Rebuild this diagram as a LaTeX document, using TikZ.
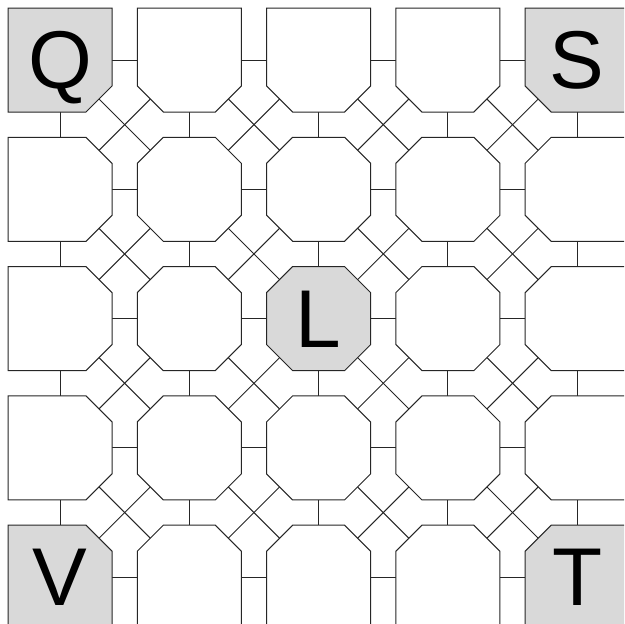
\documentclass[tikz,border=0pt]{standalone}
\usepackage{fontspec}
\setmainfont{Liberation Sans}
\usetikzlibrary{calc}
\tikzset{
  link/.style={draw=black!85, line width=1pt},
  cellbox/.style={draw=black!85, line width=1pt, fill=white},
  graycell/.style={cellbox, fill=black!15},
  biglabel/.style={inner sep=0pt, anchor=base, font=\fontsize{82}{82}\selectfont},
}
\begin{document}
\begin{tikzpicture}[x=1pt,y=1pt]
\useasboundingbox (0,0) rectangle (624,-624);
\clip (0,0) rectangle (624,-624);
% cell centres
\foreach \r in {0,...,4}{
  \foreach \c in {0,...,4}{
    \coordinate (c\r\c) at ({60+129.3*\c},{-(60+129.3*\r)});
  }
}
% connectors
\foreach \r in {0,...,4}{
  \foreach \c [evaluate=\c as \n using int(\c+1)] in {0,...,3}{
    \draw[link] (c\r\c) -- (c\r\n);
    \draw[link] (c\c\r) -- (c\n\r);
  }
}
\foreach \r [evaluate=\r as \rn using int(\r+1)] in {0,...,3}{
  \foreach \c [evaluate=\c as \cn using int(\c+1)] in {0,...,3}{
    \draw[link] (c\r\c) -- (c\rn\cn);
    \draw[link] (c\r\cn) -- (c\rn\c);
  }
}
% cells
\foreach \r in {0,...,4}{
  \foreach \c in {0,...,4}{
    \def\tl{(-52,52)}\def\tr{(52,52)}\def\br{(52,-52)}\def\bl{(-52,-52)}
    \ifnum\r>0 \ifnum\c>0 \def\tl{(-52,26) -- (-26,52)}\fi\fi
    \ifnum\r>0 \ifnum\c<4 \def\tr{(26,52) -- (52,26)}\fi\fi
    \ifnum\r<4 \ifnum\c<4 \def\br{(52,-26) -- (26,-52)}\fi\fi
    \ifnum\r<4 \ifnum\c>0 \def\bl{(-26,-52) -- (-52,-26)}\fi\fi
    \def\sty{cellbox}
    \ifnum\r=0 \ifnum\c=0 \def\sty{graycell}\fi\ifnum\c=4 \def\sty{graycell}\fi\fi
    \ifnum\r=4 \ifnum\c=0 \def\sty{graycell}\fi\ifnum\c=4 \def\sty{graycell}\fi\fi
    \ifnum\r=2 \ifnum\c=2 \def\sty{graycell}\fi\fi
    \draw[\sty, shift={(c\r\c)}] \tl -- \tr -- \br -- \bl -- cycle;
  }
}
% labels
\node[biglabel] (q) at ($(c00)+(0,-28.5)$) {Q};
\node[biglabel] (s) at ($(c04)+(0,-28.5)$) {S};
\node[biglabel] (l) at ($(c22)+(0,-28.5)$) {L};
\node[biglabel] (v) at ($(c40)+(0,-28.5)$) {V};
\node[biglabel] (t) at ($(c44)+(0,-28.5)$) {T};
\end{tikzpicture}
\end{document}
